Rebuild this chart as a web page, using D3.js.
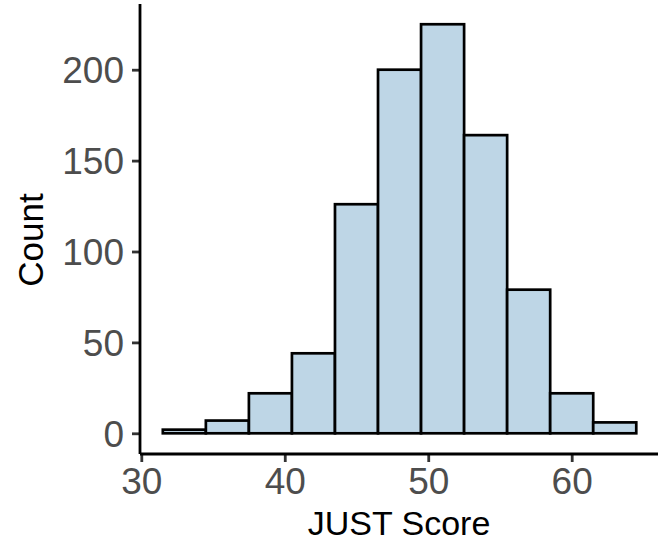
<!DOCTYPE html>
<html>
<head>
<meta charset="utf-8">
<script src="https://cdn.jsdelivr.net/npm/d3@7"></script>
<style>
  body { margin: 0; background: #fff; }
  svg { display: block; }
  text { font-family: "Liberation Sans", Arial, Helvetica, sans-serif; }
</style>
</head>
<body>
<svg id="chart" width="658" height="542"></svg>
<script>
// Histogram bins (binwidth 3) and counts
const binStarts = [31.5, 34.5, 37.5, 40.5, 43.5, 46.5, 49.5, 52.5, 55.5, 58.5, 61.5];
const binWidth = 3;
const counts = [2, 7, 22, 44, 126, 200, 225, 164, 79, 22, 6];
const xTicks = [30, 40, 50, 60];
const yTicks = [0, 50, 100, 150, 200];
const xTitle = "JUST Score";
const yTitle = "Count";

const svg = d3.select("#chart");
const panel = { left: 140, right: 658, top: 4, bottom: 454 };

const x = d3.scaleLinear().domain([30, 60]).range([141.3, 571.7]);
const y = d3.scaleLinear().domain([0, 200]).range([433.3, 69.7]);

const data = binStarts.map((s, i) => ({ x0: s, x1: s + binWidth, n: counts[i] }));

// bars
svg.append("g").selectAll("rect").data(data).enter().append("rect")
  .attr("x", d => x(d.x0))
  .attr("width", d => x(d.x1) - x(d.x0))
  .attr("y", d => y(d.n))
  .attr("height", d => y(0) - y(d.n))
  .attr("fill", "#bed6e6")
  .attr("stroke", "#000")
  .attr("stroke-width", 2.7);

// x axis
const xAxis = d3.axisBottom(x).tickValues(xTicks).tickSize(8).tickPadding(6).tickFormat(d3.format("d"));
const gx = svg.append("g").attr("transform", `translate(0,${panel.bottom})`).call(xAxis);
gx.select(".domain").remove();
gx.append("line").attr("x1", panel.left).attr("x2", panel.right).attr("y1", 0).attr("y2", 0)
  .attr("stroke", "#000").attr("stroke-width", 2.8);
gx.selectAll(".tick line").attr("stroke", "#333").attr("stroke-width", 2.8);
gx.selectAll(".tick text").attr("fill", "#4d4d4d").style("font-size", "37px");

// y axis
const yAxis = d3.axisLeft(y).tickValues(yTicks).tickSize(8).tickPadding(8).tickFormat(d3.format("d"));
const gy = svg.append("g").attr("transform", `translate(${panel.left},0)`).call(yAxis);
gy.select(".domain").remove();
gy.append("line").attr("x1", 0).attr("x2", 0).attr("y1", panel.top).attr("y2", panel.bottom)
  .attr("stroke", "#000").attr("stroke-width", 2.8);
gy.selectAll(".tick line").attr("stroke", "#333").attr("stroke-width", 2.8);
gy.selectAll(".tick text").attr("fill", "#4d4d4d").style("font-size", "37px").attr("dy", "0.35em");

// titles
svg.append("text").attr("x", (panel.left + panel.right) / 2).attr("y", 535)
  .attr("text-anchor", "middle").attr("fill", "#000").style("font-size", "34px").text(xTitle);
svg.append("text").attr("transform", `translate(43,240) rotate(-90)`)
  .attr("text-anchor", "middle").attr("fill", "#000").style("font-size", "35px").text(yTitle);
</script>
</body>
</html>
